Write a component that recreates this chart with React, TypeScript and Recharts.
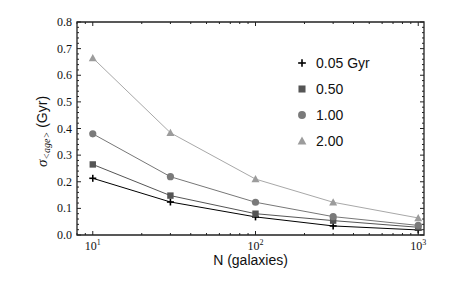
import React from 'react';
import { LineChart, Line, XAxis, YAxis, Legend, ReferenceArea } from 'recharts';

const galaxies = [10, 30, 100, 300, 1000];
const sigma005 = [0.213, 0.124, 0.068, 0.034, 0.019];
const sigma050 = [0.265, 0.148, 0.080, 0.054, 0.029];
const sigma100 = [0.380, 0.219, 0.123, 0.069, 0.036];
const sigma200 = [0.665, 0.384, 0.210, 0.123, 0.064];

const xDomain = [8, 1085];
const yDomain = [0, 0.8];
const xMajorTicks = [10, 100, 1000];
const xMinorTicks = [8, 9, 20, 30, 40, 50, 60, 70, 80, 90, 200, 300, 400, 500, 600, 700, 800, 900];
const yMajorTicks = [0, 0.1, 0.2, 0.3, 0.4, 0.5, 0.6, 0.7, 0.8];
const yMinorTicks = [0.02, 0.04, 0.06, 0.08, 0.12, 0.14, 0.16, 0.18, 0.22, 0.24, 0.26, 0.28, 0.32, 0.34, 0.36, 0.38,
  0.42, 0.44, 0.46, 0.48, 0.52, 0.54, 0.56, 0.58, 0.62, 0.64, 0.66, 0.68, 0.72, 0.74, 0.76, 0.78];

const series = [
  { key: 's005', name: '0.05 Gyr', values: sigma005, line: '#000000', fill: '#000000', shape: 'plus' },
  { key: 's050', name: '0.50', values: sigma050, line: '#555555', fill: '#555555', shape: 'square' },
  { key: 's100', name: '1.00', values: sigma100, line: '#777777', fill: '#7a7a7a', shape: 'circle' },
  { key: 's200', name: '2.00', values: sigma200, line: '#a8a8a8', fill: '#9c9c9c', shape: 'triangle' },
];

const data = galaxies.map((n, i) => {
  const row: any = { n };
  series.forEach((s) => { row[s.key] = s.values[i]; });
  return row;
});

const xTicks = [...xMajorTicks, ...xMinorTicks].sort((a, b) => a - b);
const yTicks = [...yMajorTicks, ...yMinorTicks].sort((a, b) => a - b);

const isXMajor = (v: number) => xMajorTicks.includes(v);
const isYMajor = (v: number) => yMajorTicks.some((m) => Math.abs(m - v) < 1e-9);

const SERIF = "'Liberation Serif', 'DejaVu Serif', serif";
const SANS = "'Liberation Sans', Arial, sans-serif";
const FRAME = '#222222';

function Marker({ shape, cx, cy, fill, scale = 1 }: any) {
  if (cx == null || cy == null) return null;
  if (shape === 'plus') {
    const h = 3.5 * scale;
    return (
      <g>
        <line x1={cx - h} y1={cy} x2={cx + h} y2={cy} stroke={fill} strokeWidth={1.6} />
        <line x1={cx} y1={cy - h} x2={cx} y2={cy + h} stroke={fill} strokeWidth={1.6} />
      </g>
    );
  }
  if (shape === 'square') {
    const h = 3.2 * scale;
    return <rect x={cx - h} y={cy - h} width={2 * h} height={2 * h} fill={fill} />;
  }
  if (shape === 'circle') {
    return <circle cx={cx} cy={cy} r={3.6 * scale} fill={fill} />;
  }
  const h = 4 * scale;
  return <polygon points={`${cx},${cy - h} ${cx + h},${cy + h * 0.8} ${cx - h},${cy + h * 0.8}`} fill={fill} />;
}

function XTick(props: any) {
  const { x, y, payload, side } = props;
  const v = payload.value;
  const major = isXMajor(v);
  const len = major ? 4 : 2;
  const dir = side === 'bottom' ? -1 : 1;
  const exp = Math.round(Math.log10(v));
  return (
    <g>
      <line x1={x} y1={y} x2={x} y2={y + dir * len} stroke={FRAME} strokeWidth={1} />
      {side === 'bottom' && major && (
        <text x={x} y={y + 15} textAnchor="middle" style={{ fontFamily: SERIF }} fontSize={12} fill="#111">
          <tspan>10</tspan>
          <tspan dy={-5} fontSize={8}>{exp}</tspan>
        </text>
      )}
    </g>
  );
}

function YTick(props: any) {
  const { x, y, payload, side } = props;
  const v = payload.value;
  const major = isYMajor(v);
  const len = major ? 4 : 2;
  const dir = side === 'left' ? 1 : -1;
  return (
    <g>
      <line x1={x} y1={y} x2={x + dir * len} y2={y} stroke={FRAME} strokeWidth={1} />
      {side === 'left' && major && (
        <text x={x - 5} y={y + 4} textAnchor="end" style={{ fontFamily: SERIF }} fontSize={12} fill="#111">
          {v.toFixed(1)}
        </text>
      )}
    </g>
  );
}

function renderYLabel(props: any) {
  const vb = props.viewBox || { x: 0, y: 22, width: 77, height: 213 };
  const cx = vb.x + 47;
  const cy = vb.y + vb.height / 2 + 3;
  return (
    <text x={cx} y={cy} transform={`rotate(-90 ${cx} ${cy})`} textAnchor="middle" fill="#111">
      <tspan style={{ fontFamily: SERIF, fontStyle: 'italic' }} fontSize={15}>σ</tspan>
      <tspan style={{ fontFamily: SERIF, fontStyle: 'italic' }} fontSize={10} dy={3}>&lt;age&gt;</tspan>
      <tspan style={{ fontFamily: SANS }} fontSize={14} dy={-3}> (Gyr)</tspan>
    </text>
  );
}

function LegendContent() {
  return (
    <div style={{ display: 'flex', flexDirection: 'column' }}>
      {series.map((s) => (
        <div key={s.key} style={{ display: 'flex', alignItems: 'center', height: 26 }}>
          <svg width={14} height={14} style={{ marginRight: 7 }}>
            <Marker shape={s.shape} cx={7} cy={7} fill={s.fill} scale={1.1} />
          </svg>
          <span style={{ fontFamily: SANS, fontSize: 14, color: '#111' }}>{s.name}</span>
        </div>
      ))}
    </div>
  );
}

export default function App() {
  return (
    <div style={{ position: 'absolute', left: 0, top: 0, width: 463, height: 286, background: '#fff' }}>
      <LineChart width={463} height={286} data={data} margin={{ top: 21, right: 38, bottom: 0, left: 0 }}>
        <XAxis
          xAxisId="b"
          dataKey="n"
          type="number"
          scale="log"
          domain={xDomain}
          allowDataOverflow
          ticks={xTicks}
          interval={0}
          tickSize={0}
          tickMargin={0}
          tickLine={false}
          tick={<XTick side="bottom" />}
          axisLine={false}
          height={51}
          label={{ value: 'N (galaxies)', position: 'insideBottom', offset: 21, style: { fontFamily: SANS }, fontSize: 14, fill: '#111' }}
        />
        <XAxis
          xAxisId="t"
          orientation="top"
          dataKey="n"
          type="number"
          scale="log"
          domain={xDomain}
          allowDataOverflow
          ticks={xTicks}
          interval={0}
          tickSize={0}
          tickMargin={0}
          tickLine={false}
          tick={<XTick side="top" />}
          axisLine={false}
          height={1}
        />
        <YAxis
          yAxisId="l"
          type="number"
          domain={yDomain}
          allowDataOverflow
          ticks={yTicks}
          interval={0}
          tickSize={0}
          tickMargin={0}
          tickLine={false}
          tick={<YTick side="left" />}
          axisLine={false}
          width={77}
          label={{ value: '', content: renderYLabel }}
        />
        <YAxis
          yAxisId="r"
          orientation="right"
          type="number"
          domain={yDomain}
          allowDataOverflow
          ticks={yTicks}
          interval={0}
          tickSize={0}
          tickMargin={0}
          tickLine={false}
          tick={<YTick side="right" />}
          axisLine={false}
          width={1}
        />
        <ReferenceArea
          xAxisId="b"
          yAxisId="l"
          x1={xDomain[0]}
          x2={xDomain[1]}
          y1={yDomain[0]}
          y2={yDomain[1]}
          fill="none"
          fillOpacity={0}
          stroke={FRAME}
          strokeWidth={1.3}
          strokeOpacity={1}
          ifOverflow="visible"
        />
        <Legend
          layout="horizontal"
          verticalAlign="middle"
          align="center"
          content={LegendContent}
          wrapperStyle={{ position: 'absolute', left: 295, top: 50, width: 110 }}
        />
        <Line
          xAxisId="t"
          yAxisId="r"
          dataKey={series[0].key}
          stroke="none"
          dot={false}
          activeDot={false}
          legendType="none"
          isAnimationActive={false}
        />
        {series.map((s) => (
          <Line
            key={s.key}
            xAxisId="b"
            yAxisId="l"
            dataKey={s.key}
            name={s.name}
            stroke={s.line}
            strokeWidth={1}
            isAnimationActive={false}
            dot={(p: any) => <Marker key={`${s.key}-${p.index}`} shape={s.shape} cx={p.cx} cy={p.cy} fill={s.fill} />}
            activeDot={false}
          />
        ))}
      </LineChart>
    </div>
  );
}
